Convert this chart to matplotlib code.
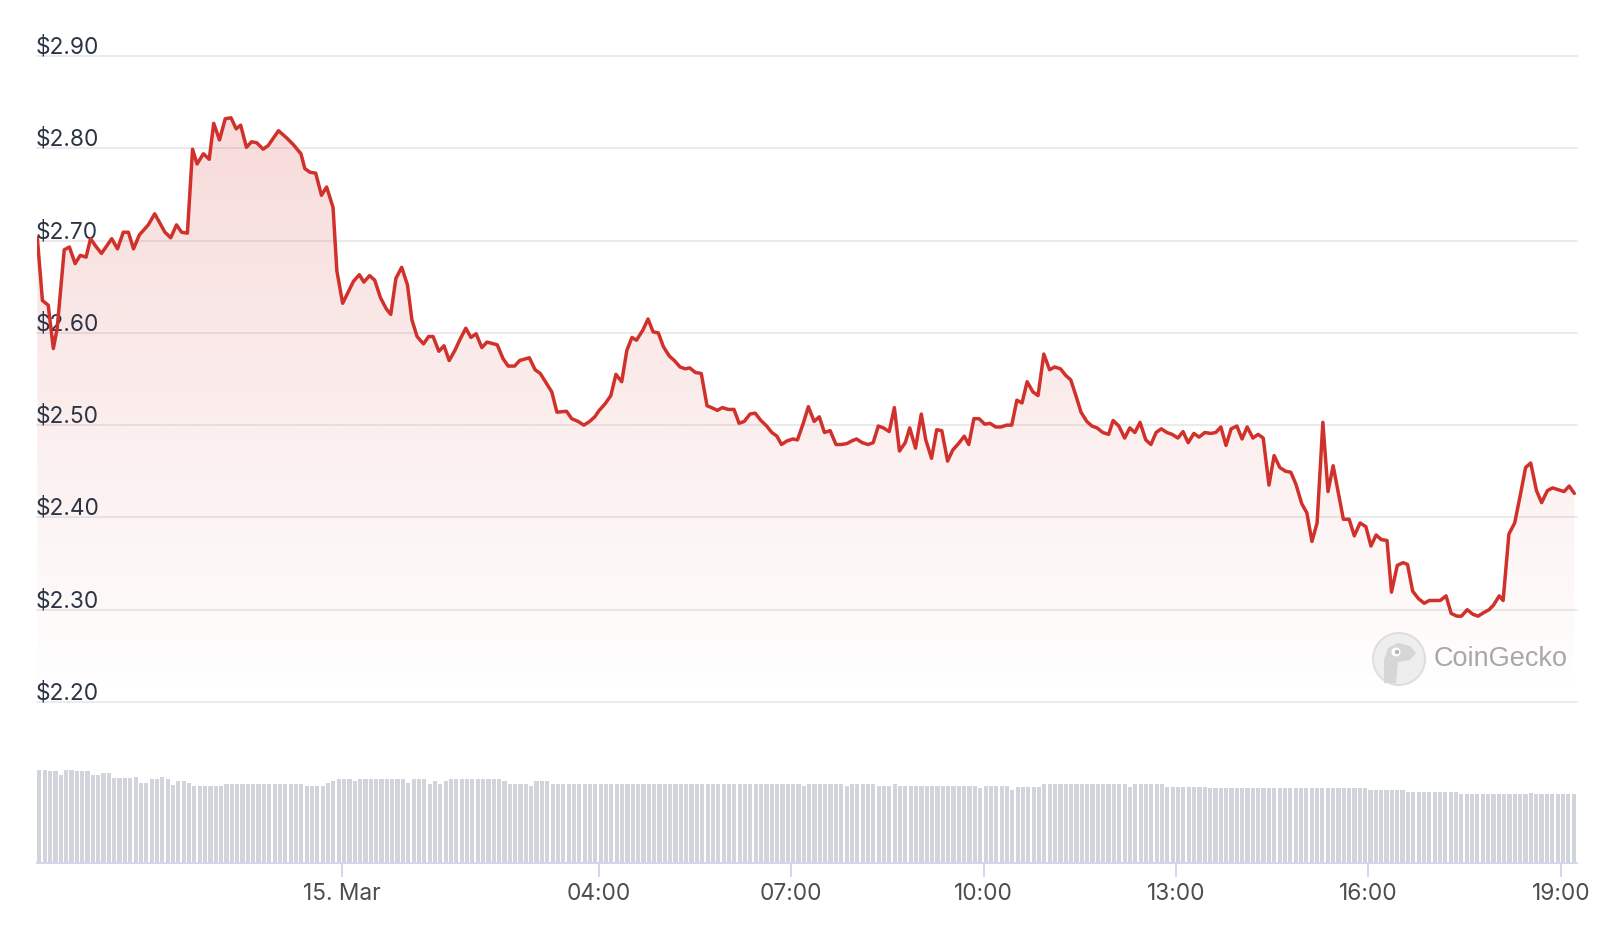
import matplotlib

matplotlib.use("Agg")
import matplotlib.pyplot as plt
import matplotlib.transforms as mtransforms
import numpy as np
from matplotlib.colors import to_rgb
from matplotlib.patches import Circle, Ellipse, Polygon

# hours relative to 15 Mar 00:00
price_hours = [
    -4.75, -4.67, -4.58, -4.50, -4.44, -4.33, -4.25, -4.16, -4.08, -3.99,
    -3.92, -3.84, -3.75, -3.59, -3.50, -3.41, -3.33, -3.25, -3.16, -3.02,
    -2.92, -2.76, -2.67, -2.58, -2.50, -2.41, -2.33, -2.26, -2.16, -2.07,
    -2.00, -1.91, -1.82, -1.73, -1.65, -1.58, -1.49, -1.41, -1.33, -1.23,
    -1.15, -0.99, -0.86, -0.76, -0.64, -0.58, -0.50, -0.41, -0.32, -0.24,
    -0.14, -0.08, 0.01, 0.18, 0.27, 0.34, 0.43, 0.51, 0.60, 0.69,
    0.76, 0.84, 0.93, 1.02, 1.09, 1.17, 1.27, 1.35, 1.42, 1.51,
    1.59, 1.67, 1.76, 1.84, 1.93, 2.01, 2.09, 2.18, 2.26, 2.42,
    2.51, 2.59, 2.69, 2.77, 2.92, 3.01, 3.09, 3.18, 3.27, 3.35,
    3.50, 3.58, 3.68, 3.77, 3.86, 3.94, 4.01, 4.10, 4.19, 4.27,
    4.36, 4.44, 4.52, 4.59, 4.69, 4.77, 4.85, 4.93, 5.01, 5.10,
    5.18, 5.27, 5.35, 5.42, 5.51, 5.60, 5.69, 5.76, 5.85, 5.93,
    6.02, 6.11, 6.19, 6.27, 6.36, 6.44, 6.53, 6.62, 6.70, 6.78,
    6.85, 6.94, 7.03, 7.10, 7.19, 7.27, 7.36, 7.44, 7.52, 7.61,
    7.70, 7.78, 7.87, 7.95, 8.02, 8.11, 8.20, 8.28, 8.36, 8.44,
    8.53, 8.61, 8.69, 8.78, 8.85, 8.94, 9.03, 9.10, 9.19, 9.27,
    9.35, 9.44, 9.52, 9.61, 9.70, 9.77, 9.85, 9.93, 10.02, 10.10,
    10.19, 10.27, 10.36, 10.44, 10.52, 10.60, 10.68, 10.77, 10.85, 10.94,
    11.03, 11.11, 11.20, 11.28, 11.36, 11.44, 11.52, 11.61, 11.69, 11.77,
    11.86, 11.95, 12.02, 12.11, 12.20, 12.28, 12.36, 12.44, 12.53, 12.61,
    12.69, 12.77, 12.86, 12.94, 13.03, 13.11, 13.19, 13.28, 13.36, 13.45,
    13.54, 13.62, 13.70, 13.78, 13.86, 13.95, 14.03, 14.11, 14.20, 14.28,
    14.36, 14.45, 14.53, 14.62, 14.71, 14.79, 14.87, 14.96, 15.04, 15.12,
    15.20, 15.29, 15.37, 15.45, 15.53, 15.61, 15.70, 15.78, 15.87, 15.96,
    16.04, 16.12, 16.20, 16.29, 16.36, 16.45, 16.54, 16.61, 16.69, 16.78,
    16.87, 16.95, 17.04, 17.12, 17.21, 17.29, 17.38, 17.45, 17.54, 17.63,
    17.71, 17.80, 17.88, 17.95, 18.04, 18.10, 18.19, 18.28, 18.37, 18.45,
    18.53, 18.62, 18.70, 18.79, 18.87, 18.96, 19.05, 19.13, 19.21,
]
price_values = [
    2.703, 2.635, 2.630, 2.583, 2.605, 2.690, 2.693, 2.675, 2.684, 2.682,
    2.702, 2.694, 2.686, 2.702, 2.691, 2.709, 2.709, 2.691, 2.706, 2.717,
    2.729, 2.709, 2.703, 2.717, 2.709, 2.708, 2.799, 2.783, 2.794, 2.788,
    2.827, 2.809, 2.832, 2.833, 2.821, 2.825, 2.801, 2.807, 2.806, 2.799,
    2.803, 2.819, 2.811, 2.804, 2.794, 2.778, 2.774, 2.773, 2.749, 2.758,
    2.736, 2.667, 2.632, 2.656, 2.663, 2.655, 2.662, 2.657, 2.638, 2.626,
    2.620, 2.659, 2.671, 2.652, 2.614, 2.596, 2.588, 2.596, 2.596, 2.580,
    2.586, 2.570, 2.581, 2.593, 2.605, 2.595, 2.599, 2.584, 2.590, 2.587,
    2.572, 2.564, 2.564, 2.570, 2.573, 2.560, 2.556, 2.546, 2.536, 2.514,
    2.515, 2.507, 2.504, 2.500, 2.504, 2.509, 2.516, 2.523, 2.532, 2.555,
    2.547, 2.581, 2.595, 2.592, 2.603, 2.615, 2.601, 2.600, 2.585, 2.575,
    2.570, 2.563, 2.561, 2.562, 2.557, 2.556, 2.521, 2.519, 2.516, 2.519,
    2.517, 2.517, 2.502, 2.504, 2.512, 2.513, 2.505, 2.499, 2.492, 2.488,
    2.479, 2.483, 2.485, 2.484, 2.502, 2.520, 2.504, 2.509, 2.492, 2.494,
    2.479, 2.479, 2.480, 2.483, 2.485, 2.481, 2.479, 2.481, 2.499, 2.497,
    2.493, 2.519, 2.472, 2.481, 2.497, 2.475, 2.512, 2.484, 2.464, 2.495,
    2.494, 2.461, 2.473, 2.480, 2.488, 2.479, 2.507, 2.507, 2.501, 2.502,
    2.498, 2.498, 2.500, 2.500, 2.527, 2.524, 2.547, 2.536, 2.532, 2.577,
    2.560, 2.563, 2.561, 2.554, 2.549, 2.532, 2.514, 2.504, 2.499, 2.497,
    2.492, 2.490, 2.505, 2.499, 2.486, 2.497, 2.492, 2.503, 2.484, 2.479,
    2.492, 2.496, 2.492, 2.490, 2.486, 2.493, 2.481, 2.491, 2.487, 2.492,
    2.491, 2.492, 2.498, 2.478, 2.496, 2.499, 2.485, 2.498, 2.486, 2.490,
    2.486, 2.435, 2.467, 2.454, 2.450, 2.449, 2.436, 2.415, 2.405, 2.374,
    2.394, 2.503, 2.428, 2.456, 2.427, 2.398, 2.398, 2.380, 2.394, 2.390,
    2.369, 2.381, 2.376, 2.375, 2.319, 2.348, 2.351, 2.349, 2.320, 2.312,
    2.307, 2.310, 2.310, 2.310, 2.315, 2.296, 2.293, 2.293, 2.300, 2.295,
    2.293, 2.297, 2.300, 2.305, 2.315, 2.310, 2.382, 2.394, 2.425, 2.454,
    2.459, 2.429, 2.416, 2.429, 2.432, 2.430, 2.428, 2.434, 2.426,
]

# 5-minute volume bars (relative units), first bar at 14 Mar 19:15
volume_start = -4.75
volume = [
    930, 930, 920, 920, 880, 930, 930, 920, 920, 920,
    880, 880, 900, 900, 845, 845, 845, 845, 860, 800,
    800, 840, 840, 860, 840, 780, 820, 820, 800, 765,
    765, 765, 765, 765, 765, 785, 785, 785, 785, 785,
    785, 785, 785, 785, 785, 785, 785, 785, 785, 785,
    765, 765, 765, 765, 800, 820, 840, 840, 840, 820,
    840, 840, 840, 840, 840, 840, 840, 840, 840, 800,
    840, 840, 840, 785, 820, 785, 820, 840, 840, 840,
    840, 840, 840, 840, 840, 840, 840, 820, 785, 785,
    785, 785, 765, 820, 820, 820, 785, 785, 785, 785,
    785, 785, 785, 785, 785, 785, 785, 785, 785, 785,
    785, 785, 785, 785, 785, 785, 785, 785, 785, 785,
    785, 785, 785, 785, 785, 785, 785, 785, 785, 785,
    785, 785, 785, 785, 785, 785, 785, 785, 785, 785,
    785, 785, 785, 765, 785, 785, 785, 785, 785, 785,
    785, 765, 785, 785, 785, 785, 785, 765, 765, 765,
    785, 765, 765, 765, 765, 765, 765, 765, 765, 765,
    765, 765, 765, 765, 765, 765, 745, 765, 765, 765,
    765, 765, 727, 760, 760, 760, 760, 760, 785, 785,
    785, 785, 785, 785, 785, 785, 785, 785, 785, 785,
    785, 785, 785, 785, 760, 785, 785, 785, 785, 785,
    785, 760, 760, 760, 760, 760, 760, 760, 760, 745,
    745, 745, 745, 745, 745, 745, 745, 745, 745, 745,
    745, 745, 745, 745, 745, 745, 745, 745, 745, 745,
    745, 745, 745, 745, 745, 745, 745, 745, 745, 727,
    727, 727, 727, 727, 727, 727, 707, 707, 707, 707,
    707, 707, 707, 707, 707, 707, 684, 684, 684, 684,
    684, 684, 684, 684, 684, 684, 684, 684, 684, 700,
    684, 684, 684, 684, 684, 684, 684, 684,
]

tick_hours = [0, 4, 7, 10, 13, 16, 19]
tick_labels = ["15. Mar", "04:00", "07:00", "10:00", "13:00", "16:00", "19:00"]
price_levels = [2.20, 2.30, 2.40, 2.50, 2.60, 2.70, 2.80, 2.90]

W, H = 1600, 930
RED = "#d0312b"
FONT = ["Inter", "DejaVu Sans"]
x_min, x_max = -4.75, 19.25
y_min, y_max = 2.20, 2.92

fig = plt.figure(figsize=(W / 100, H / 100), dpi=100)
fig.patch.set_facecolor("white")

# price panel
ax = fig.add_axes([37.3 / W, (H - 702) / H, 1539.6 / W, (702 - 37.5) / H])
ax.set_axis_off()

for lv in price_levels:
    ax.axhline(lv, color="#e8e8e8", lw=1.2, zorder=0, clip_on=False)

grad = np.zeros((256, 1, 4))
grad[..., :3] = to_rgb(RED)
grad[:, 0, 3] = np.linspace(0.0, 0.2, 256)
img = ax.imshow(grad, extent=[x_min, x_max, y_min, y_max], origin="lower",
                aspect="auto", interpolation="bilinear", zorder=1)
verts = ([(price_hours[0], y_min)] + list(zip(price_hours, price_values))
         + [(price_hours[-1], y_min)])
area = Polygon(verts, closed=True, facecolor="none", edgecolor="none")
ax.add_patch(area)
img.set_clip_path(area)

label_tr = mtransforms.offset_copy(
    mtransforms.blended_transform_factory(ax.transAxes, ax.transData),
    fig=fig, x=-1.5, y=2.5, units="dots")
for lv in price_levels:
    ax.text(0, lv, f"${lv:.2f}", transform=label_tr, ha="left", va="baseline",
            fontsize=16.3, color="#2b3445", family=FONT, zorder=2,
            parse_math=False)

ax.plot(price_hours, price_values, color=RED, lw=2.5, zorder=3,
        solid_joinstyle="round", solid_capstyle="round")
ax.set_xlim(x_min, x_max)
ax.set_ylim(y_min, y_max)

# volume panel
axv = fig.add_axes([37.3 / W, (H - 862.7) / H, 1539.6 / W, 162.7 / H])
vol_hours = volume_start + np.arange(len(volume)) / 12
axv.bar(vol_hours, volume, width=0.78 / 12, align="edge", color="#d1d5db",
        linewidth=0)
axv.set_xlim(x_min, x_max)
axv.set_ylim(0, 1627)
for side in ["top", "left", "right"]:
    axv.spines[side].set_visible(False)
axv.spines["bottom"].set_color("#ccd6eb")
axv.spines["bottom"].set_linewidth(1.3)
axv.set_yticks([])
axv.set_xticks(tick_hours, tick_labels)
axv.tick_params(axis="x", length=10, width=1.3, color="#ccd6eb",
                labelcolor="#4d4d4d", labelsize=16.3, pad=4.5)
for lbl in axv.get_xticklabels():
    lbl.set_family(FONT)
axv.patch.set_alpha(0)

# CoinGecko watermark
ov = fig.add_axes([0, 0, 1, 1])
ov.set_xlim(0, W)
ov.set_ylim(H, 0)
ov.set_axis_off()
ov.patch.set_alpha(0)
ov.add_patch(Circle((1399, 659), 26, facecolor="#ededed", edgecolor="#dcdcdc",
                    lw=1.5, alpha=0.9))
ov.add_patch(Polygon([(1384, 683), (1384, 660), (1388, 648), (1398, 643),
                      (1410, 646), (1416, 653), (1410, 660), (1398, 662),
                      (1396, 683)], closed=True, facecolor="#d6d6d6",
                     edgecolor="none"))
ov.add_patch(Ellipse((1396, 652), 9, 9, facecolor="white", edgecolor="none"))
ov.add_patch(Ellipse((1397, 652), 4.5, 4.5, facecolor="#b5b5b5",
                     edgecolor="none"))
ov.text(1434, 659, "CoinGecko", fontsize=19.5, color="#a8a8a8",
        family="Liberation Sans", ha="left", va="center")

fig.savefig("out.png", dpi=100, facecolor="white")
